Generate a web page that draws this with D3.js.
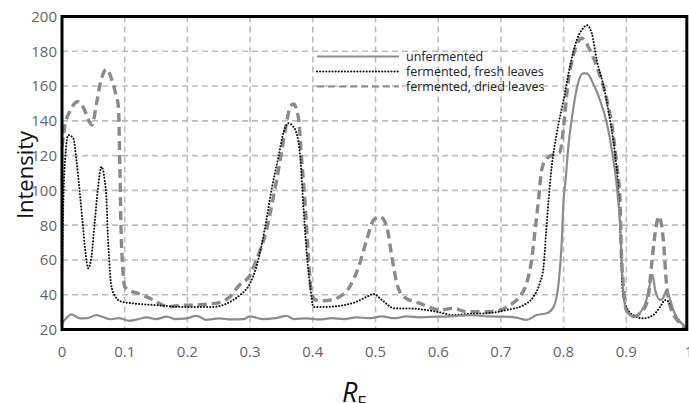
<!DOCTYPE html>
<html><head><meta charset="utf-8">
<script src="https://cdn.jsdelivr.net/npm/d3@7"></script>
<style>html,body{margin:0;padding:0;background:#fff;}svg{display:block;}</style>
</head><body>
<svg id="c" width="689" height="403"></svg>
<script>
const xTicks = [0,0.1,0.2,0.3,0.4,0.5,0.6,0.7,0.8,0.9,1];
const xTickLabels = ["0","0.1","0.2","0.3","0.4","0.5","0.6","0.7","0.8","0.9","1"];
const yTicks = [20,40,60,80,100,120,140,160,180,200];
const seriesNames = ["unfermented","fermented, fresh leaves","fermented, dried leaves"];

const unfermentedRf = [0,0.008,0.015,0.022,0.029,0.04,0.055,0.065,0.077,0.09,0.108,0.12,0.135,0.15,0.167,0.18,0.195,0.215,0.23,0.25,0.27,0.29,0.30,0.32,0.34,0.358,0.37,0.39,0.41,0.43,0.45,0.47,0.49,0.51,0.53,0.55,0.57,0.6,0.62,0.651,0.68,0.704,0.725,0.741,0.757,0.773,0.784,0.792,0.797,0.80,0.803,0.807,0.815,0.823,0.831,0.837,0.847,0.858,0.869,0.877,0.885,0.89,0.895,0.9,0.911,0.921,0.932,0.937,0.942,0.946,0.954,0.96,0.964,0.97,0.977,0.988,0.997];
const unfermentedVal = [23.6,27,28.7,27.5,26.4,26.5,28.3,27.2,25.9,26.5,25,25.8,27,26,27.4,26,26.2,27.8,25.5,26.4,25.8,26,27.5,26,26.5,27.8,26,26.4,25.8,26.5,26,27,26.5,27.5,26.5,27.5,27,27.4,27.5,28.3,27.5,27.4,26.8,25.5,28.3,29.3,33,46.6,70,94.5,105,123,146,161.6,167.3,167.3,161.6,152,138.6,123.2,102,81,42.7,31.2,27.4,29.3,37,45,51.5,42.7,37,39,42.7,37,29.3,23.6,21];

const freshRf = [0,0.002,0.005,0.01,0.018,0.023,0.028,0.033,0.037,0.042,0.047,0.052,0.057,0.063,0.068,0.071,0.073,0.075,0.078,0.085,0.095,0.114,0.151,0.193,0.24,0.26,0.273,0.284,0.3,0.31,0.323,0.334,0.345,0.353,0.361,0.368,0.374,0.38,0.385,0.39,0.396,0.401,0.42,0.45,0.47,0.487,0.497,0.51,0.53,0.56,0.6,0.624,0.65,0.677,0.709,0.736,0.752,0.762,0.768,0.772,0.776,0.781,0.789,0.8,0.81,0.821,0.831,0.837,0.845,0.853,0.864,0.874,0.882,0.887,0.891,0.894,0.9,0.911,0.927,0.943,0.954,0.962,0.97,0.98,0.991,0.997];
const freshVal = [45,90,118,131.8,130,117.5,100,81,65.7,55.2,61.9,81,100,113.6,106,94.5,75,61.9,46.6,38.9,36,35,34,33,33,34.5,37,39.8,46.6,56,77,100,119,133,138.6,137,133,119,90.6,65.7,44.6,33,33,34,36,39,40.4,37,32.2,32,30,28.3,29,29.3,31.2,34,38.9,46.6,56,75.3,94.5,113.6,132.8,152,171,186.5,193.2,195,190.3,174.8,159.6,140.5,121.3,102,71.5,42.7,33,28.3,26.4,28.3,33,37,35,27.4,22.6,20.5];

const driedRf = [0,0.005,0.012,0.025,0.035,0.043,0.048,0.055,0.062,0.071,0.08,0.086,0.09,0.092,0.094,0.097,0.1,0.11,0.12,0.13,0.14,0.155,0.17,0.19,0.21,0.23,0.25,0.265,0.284,0.3,0.31,0.326,0.337,0.348,0.356,0.364,0.369,0.377,0.382,0.388,0.393,0.398,0.404,0.415,0.43,0.443,0.459,0.473,0.486,0.497,0.507,0.518,0.526,0.534,0.544,0.571,0.603,0.624,0.645,0.677,0.70,0.714,0.73,0.741,0.749,0.754,0.76,0.765,0.773,0.789,0.794,0.80,0.807,0.815,0.823,0.829,0.842,0.855,0.869,0.879,0.885,0.89,0.892,0.895,0.9,0.911,0.927,0.935,0.940,0.946,0.952,0.959,0.964,0.972,0.986,0.993];
const driedVal = [125,138,145,151,147,140,137.6,150,163,169.6,163,155,148,120,80,55,44.6,42,41,39.5,38,35,33,34,34,34.5,35.5,38,46,51.3,60,77,96,117.5,134.7,148,149.7,142,119,90.6,62,40.8,37,36.5,37,38.9,44.6,56,71.5,83,84.9,79,62,46.6,39,35,31.2,32.2,30.2,30.2,31.2,34,38.9,46.6,60,75.3,94.5,111.7,118.4,121.3,122,136.6,161.6,177,185.5,187.5,180.7,169,152,132.8,113.6,94.5,65.7,46.6,31.2,27.4,31.2,38.9,56,75.3,85,71.5,46.6,31.2,23.6,20.7];

const svg = d3.select("#c");
const x = d3.scaleLinear().domain([0,1]).range([62,689]);
const y = d3.scaleLinear().domain([20,200]).range([329.5,16.5]);
const xEnd = 0.9965;

// grid
const g = svg.append("g");
g.selectAll("line.hg").data(yTicks.filter(d=>d>20&&d<200)).join("line")
  .attr("x1",x(0)).attr("x2",x(xEnd)).attr("y1",d=>y(d)).attr("y2",d=>y(d))
  .attr("stroke","#bdbdbd").attr("stroke-width",1.6).attr("stroke-dasharray","6,4");
g.selectAll("line.vg").data(xTicks.filter(d=>d>0&&d<1)).join("line")
  .attr("x1",d=>x(d)).attr("x2",d=>x(d)).attr("y1",y(200)).attr("y2",y(20))
  .attr("stroke","#bdbdbd").attr("stroke-width",1.6).attr("stroke-dasharray","6,4");

svg.append("clipPath").attr("id","clip").append("rect")
  .attr("x",x(0)).attr("y",y(200)).attr("width",x(xEnd)-x(0)).attr("height",y(20)-y(200));

const mk = (rf, vals) => rf.map((r,i)=>[r, vals[i]]);
const line = d3.line().x(d=>x(d[0])).y(d=>y(d[1])).curve(d3.curveMonotoneX);
const plot = svg.append("g").attr("clip-path","url(#clip)");

const styles = [
  {stroke:"#8c8c8c", w:2.2, dash:null, cap:"butt"},
  {stroke:"#111", w:2, dash:"0.1,3", cap:"round"},
  {stroke:"#8a8a8a", w:3.4, dash:"9,5", cap:"butt"}
];
const data = [mk(unfermentedRf,unfermentedVal), mk(freshRf,freshVal), mk(driedRf,driedVal)];
[2,1,0].forEach(i=>{
  plot.append("path").datum(data[i]).attr("d",line).attr("fill","none")
    .attr("stroke",styles[i].stroke).attr("stroke-width",styles[i].w)
    .attr("stroke-dasharray",styles[i].dash).attr("stroke-linecap",styles[i].cap)
    .attr("stroke-linejoin","round");
});

// frame
svg.append("rect").attr("x",x(0)).attr("y",y(200)).attr("width",x(xEnd)-x(0)).attr("height",y(20)-y(200))
  .attr("fill","none").attr("stroke","#000").attr("stroke-width",3);

// tick labels
const font = "'Open Sans', sans-serif";
svg.append("g").selectAll("text").data(yTicks).join("text")
  .attr("x",57).attr("y",d=>y(d)).attr("dy","0.36em").attr("text-anchor","end")
  .attr("font-family",font).attr("font-size",15).attr("fill","#666").text(d=>d);
svg.append("g").selectAll("text").data(xTicks).join("text")
  .attr("x",d=>x(d)).attr("y",357).attr("text-anchor","middle")
  .attr("font-family",font).attr("font-size",15).attr("fill","#666").text((d,i)=>xTickLabels[i]);

// axis titles
svg.append("text").attr("transform","translate(33,175) rotate(-90)").attr("text-anchor","middle")
  .attr("font-family",font).attr("font-size",22).attr("fill","#111").text("Intensity");
const xt = svg.append("text").attr("x",354).attr("y",402).attr("text-anchor","middle")
  .attr("font-family",font).attr("fill","#111");
xt.append("tspan").attr("font-size",27).attr("font-style","italic").text("R");
xt.append("tspan").attr("font-size",17).attr("dy",6).text("F");

// legend
const lg = svg.append("g");
seriesNames.forEach((n,i)=>{
  const ly = 56.5 + i*15;
  lg.append("line").attr("x1",317).attr("x2",399).attr("y1",ly).attr("y2",ly)
    .attr("stroke",styles[i].stroke).attr("stroke-width",i===2?2:styles[i].w)
    .attr("stroke-dasharray",i===2?"7,4":styles[i].dash).attr("stroke-linecap",styles[i].cap);
  lg.append("text").attr("x",406).attr("y",ly).attr("dy","0.35em")
    .attr("font-family",font).attr("font-size",12.5).attr("fill","#222").text(n);
});
</script>
</body></html>
